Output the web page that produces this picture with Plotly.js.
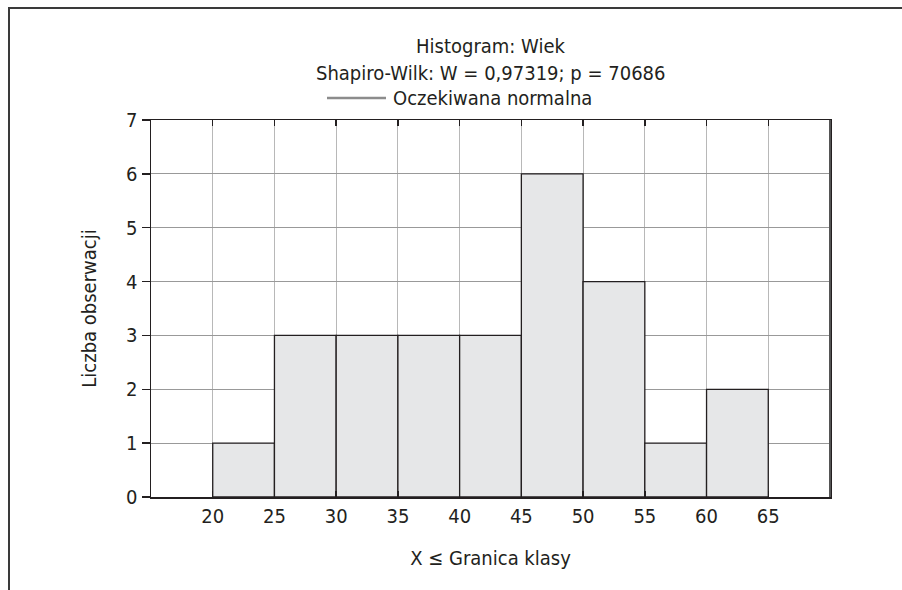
<!DOCTYPE html>
<html><head><meta charset="utf-8">
<script src="https://cdn.plot.ly/plotly-3.0.1.min.js"></script>
<style>
html,body{margin:0;padding:0;background:#fff;overflow:hidden}
#wrap{position:relative;width:902px;height:590px;overflow:hidden}
#c{position:absolute;left:0;top:0;width:902px;height:590px}
#fl{position:absolute;left:8px;top:7px;width:2px;height:590px;background:#3a3a3a}
#ft{position:absolute;left:8px;top:7px;width:900px;height:2px;background:#3a3a3a}
</style>
</head><body><div id="wrap"><div id="c"></div><div id="fl"></div><div id="ft"></div></div>
<script>
const binStarts = [20, 25, 30, 35, 40, 45, 50, 55, 60];
const binWidth = 5;
const counts = [1, 3, 3, 3, 3, 6, 4, 1, 2];
const xTicks = [20, 25, 30, 35, 40, 45, 50, 55, 60, 65];
const yTicks = [0, 1, 2, 3, 4, 5, 6, 7];
const titleLines = ['Histogram: Wiek', 'Shapiro-Wilk: W = 0,97319; p = 70686'];
const legendLabel = 'Oczekiwana normalna';
const xTitle = 'X ≤ Granica klasy';
const yTitle = 'Liczba obserwacji';

const FONT = '"Liberation Sans Narrow", "DejaVu Sans Condensed", "Roboto", sans-serif';
const INK = '#231f20';
const FS = 20;

// plot area in pixels: x 151..830, y 120..497
const L = 151, R = 830, T = 120, B = 497;
const px = x => (x - L) / (R - L);
const py = y => (B - y) / (B - T);

const trace = {
  type: 'bar',
  x: binStarts.map(s => s + binWidth / 2),
  y: counts,
  width: binStarts.map(() => binWidth),
  marker: {color: '#e6e7e8', line: {color: INK, width: 1.3}},
  hoverinfo: 'x+y',
  showlegend: false
};

const layout = {
  width: 902, height: 590,
  margin: {l: L, r: 902 - R, t: T, b: 590 - B, pad: 0},
  paper_bgcolor: 'rgba(0,0,0,0)', plot_bgcolor: '#fff',
  font: {family: FONT, color: INK, size: FS},
  showlegend: false,
  bargap: 0,
  xaxis: {
    range: [15, 70], tickvals: xTicks, ticktext: xTicks.map(String),
    showgrid: true, gridcolor: '#b8b8b8', gridwidth: 1,
    zeroline: false, showline: true, linecolor: INK, linewidth: 1.5, mirror: 'ticks',
    ticks: 'inside', ticklen: 6, tickcolor: INK, tickwidth: 1.5,
    tickfont: {family: FONT, size: FS, color: INK},
    title: {text: xTitle, font: {family: FONT, size: FS, color: INK}, standoff: 24},
    fixedrange: true
  },
  yaxis: {
    range: [0, 7], tickvals: yTicks, ticktext: yTicks.map(String),
    showgrid: true, gridcolor: '#999999', gridwidth: 1,
    zeroline: false, showline: true, linecolor: INK, linewidth: 1.5, mirror: true,
    ticks: 'outside', ticklen: 8, tickcolor: INK, tickwidth: 1.5,
    tickfont: {family: FONT, size: FS, color: INK},
    title: {text: yTitle, font: {family: FONT, size: FS, color: INK}, standoff: 24},
    fixedrange: true
  },
  annotations: [
    {xref: 'paper', yref: 'paper', x: 0.5, y: py(46), text: titleLines[0], showarrow: false,
     xanchor: 'center', yanchor: 'middle', font: {family: FONT, size: FS, color: INK}},
    {xref: 'paper', yref: 'paper', x: 0.5, y: py(73), text: titleLines[1], showarrow: false,
     xanchor: 'center', yanchor: 'middle', font: {family: FONT, size: FS, color: INK}},
    {xref: 'paper', yref: 'paper', x: px(391), y: py(98), text: legendLabel, showarrow: false,
     xanchor: 'left', yanchor: 'middle', font: {family: FONT, size: FS, color: INK}}
  ],
  shapes: [
    {type: 'line', xref: 'paper', yref: 'paper', x0: px(327), x1: px(386), y0: py(98), y1: py(98),
     line: {color: '#8c8c8c', width: 2.5}},
    {type: 'line', xref: 'paper', yref: 'paper', x0: 1, x1: 1, y0: 0, y1: 1,
     line: {color: '#555555', width: 2}}
  ]
};

Plotly.newPlot('c', [trace], layout, {staticPlot: true, displayModeBar: false});
</script>
</body></html>
